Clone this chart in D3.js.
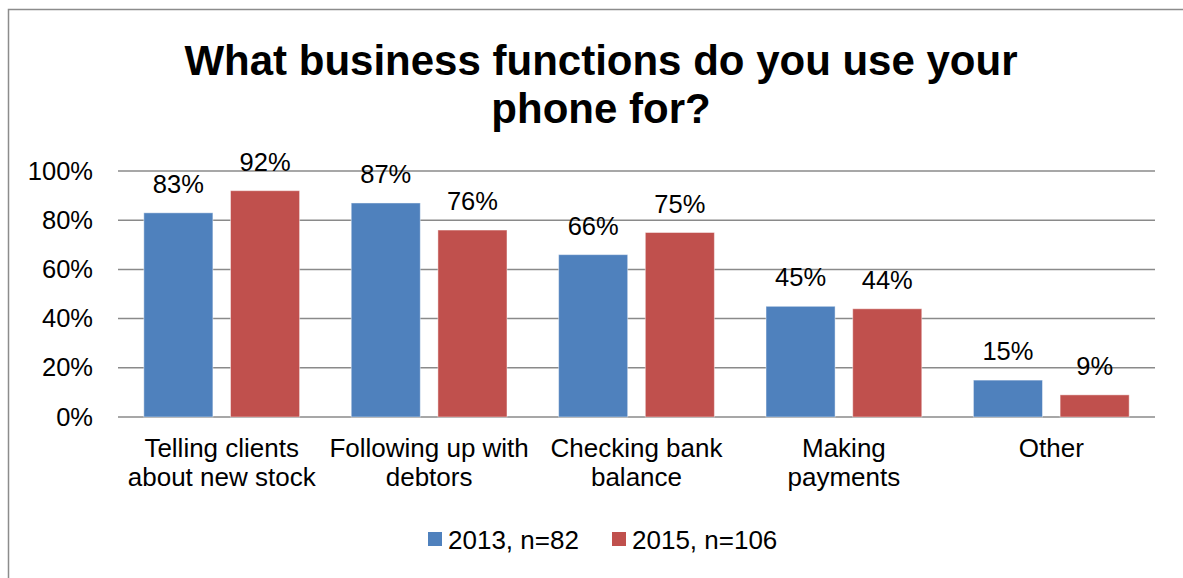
<!DOCTYPE html>
<html>
<head>
<meta charset="utf-8">
<script src="https://cdn.jsdelivr.net/npm/d3@7"></script>
<style>
  body { margin: 0; background: #fff; }
  svg text { font-family: "Liberation Sans", Arial, sans-serif; fill: #000; }
</style>
</head>
<body>
<div id="container"></div>
<script>
var width = 1183;
var height = 578;

// data
var categories = [
  ["Telling clients", "about new stock"],
  ["Following up with", "debtors"],
  ["Checking bank", "balance"],
  ["Making", "payments"],
  ["Other"]
];
var series2013 = [0.83, 0.87, 0.66, 0.45, 0.15];
var series2015 = [0.92, 0.76, 0.75, 0.44, 0.09];
var seriesNames = ["2013, n=82", "2015, n=106"];
var seriesColors = ["#4F81BD", "#C0504D"];
var yTicks = [0, 0.2, 0.4, 0.6, 0.8, 1.0];
var titleLines = ["What business functions do you use your", "phone for?"];

var plot = { left: 118, right: 1155, top: 171, bottom: 417 };

const svg = d3.create("svg")
  .attr("width", width)
  .attr("height", height);

// chart frame
svg.append("rect")
  .attr("x", 8.5).attr("y", 9.5)
  .attr("width", 1200).attr("height", 600)
  .attr("fill", "none")
  .attr("stroke", "#8c8c8c")
  .attr("stroke-width", 1.5);

// title
svg.append("g").selectAll("text")
  .data(titleLines)
  .join("text")
  .attr("x", 601)
  .attr("y", function(d, i) { return 75 + i * 48; })
  .attr("text-anchor", "middle")
  .attr("font-size", 42)
  .attr("font-weight", "bold")
  .text(function(d) { return d; });

var x0 = d3.scaleBand()
  .domain(d3.range(categories.length))
  .range([plot.left, plot.right])
  .paddingInner(0)
  .paddingOuter(0);

// bars take a third of the category each, small gap between
var bw = x0.bandwidth();
var barW = bw * 0.333;
var barGap = bw * 0.085;
var barOffset = (bw - 2 * barW - barGap) / 2;

var y = d3.scaleLinear().domain([0, 1]).range([plot.bottom, plot.top]);

// gridlines
svg.append("g").selectAll("line")
  .data(yTicks)
  .join("line")
  .attr("x1", plot.left).attr("x2", plot.right)
  .attr("y1", function(d) { return y(d); })
  .attr("y2", function(d) { return y(d); })
  .attr("stroke", "#8a8a8a")
  .attr("stroke-width", 1.5);

// y axis labels
var yAxis = d3.axisLeft(y)
  .tickValues(yTicks)
  .tickFormat(d3.format(".0%"))
  .tickSize(0)
  .tickPadding(25);
var ya = svg.append("g")
  .attr("transform", "translate(" + plot.left + ",0)")
  .call(yAxis);
ya.select(".domain").remove();
ya.selectAll("text")
  .attr("font-size", 25.5)
  .attr("font-family", "Liberation Sans, Arial, sans-serif")
  .attr("fill", "#000");

var data = [];
for (var i = 0; i < categories.length; i++) {
  data.push({ cat: i, s: 0, v: series2013[i] });
  data.push({ cat: i, s: 1, v: series2015[i] });
}

function barX(d) {
  return x0(d.cat) + barOffset + d.s * (barW + barGap);
}

svg.append("g").selectAll("rect")
  .data(data)
  .join("rect")
  .attr("x", barX)
  .attr("y", function(d) { return y(d.v); })
  .attr("width", barW)
  .attr("height", function(d) { return y(0) - y(d.v); })
  .attr("fill", function(d) { return seriesColors[d.s]; })
  .attr("stroke", "rgba(255,255,255,0.45)")
  .attr("stroke-width", 1);

// value labels
svg.append("g").selectAll("text")
  .data(data)
  .join("text")
  .attr("x", function(d) { return barX(d) + barW / 2; })
  .attr("y", function(d) { return y(d.v) - 20; })
  .attr("text-anchor", "middle")
  .attr("font-size", 25.5)
  .text(function(d) { return Math.round(d.v * 100) + "%"; });

// category labels
var cl = svg.append("g").selectAll("text")
  .data(categories)
  .join("text")
  .attr("x", function(d, i) { return x0(i) + bw / 2; })
  .attr("y", 457)
  .attr("text-anchor", "middle")
  .attr("font-size", 26);
cl.selectAll("tspan")
  .data(function(d) { return d; })
  .join("tspan")
  .attr("x", function() { return d3.select(this.parentNode).attr("x"); })
  .attr("dy", function(d, i) { return i === 0 ? 0 : 29; })
  .text(function(d) { return d; });

// legend
var legendX = [428, 612];
var lg = svg.append("g").selectAll("g")
  .data(seriesNames)
  .join("g")
  .attr("transform", function(d, i) { return "translate(" + legendX[i] + ",0)"; });
lg.append("rect")
  .attr("x", 0).attr("y", 532)
  .attr("width", 14).attr("height", 14)
  .attr("fill", function(d, i) { return seriesColors[i]; });
lg.append("text")
  .attr("x", 20).attr("y", 549)
  .attr("font-size", 26)
  .text(function(d) { return d; });

document.getElementById("container").append(svg.node());
</script>
</body>
</html>
